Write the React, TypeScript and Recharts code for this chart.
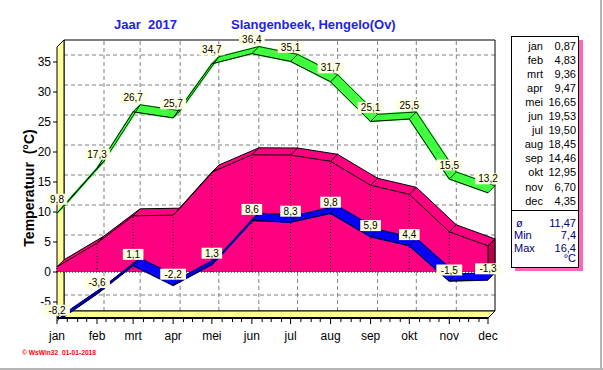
import {
  ComposedChart,
  Line,
  Area,
  XAxis,
  YAxis,
  ReferenceLine,
  ReferenceArea,
  LabelList,
} from 'recharts';

const MONTHS = ['jan', 'feb', 'mrt', 'apr', 'mei', 'jun', 'jul', 'aug', 'sep', 'okt', 'nov', 'dec'];
// day of year where each month starts (the x position of the month)
const MONTH_DAY = [0, 31, 59, 90, 120, 151, 181, 212, 243, 273, 304, 334];
const MONTH_LEN = [31, 28, 31, 30, 31, 30, 31, 31, 30, 31, 30, 31];

const MAX_TEMP = [9.8, 17.3, 26.7, 25.7, 34.7, 36.4, 35.1, 31.7, 25.1, 25.5, 15.5, 13.2];
const MIN_TEMP = [-8.2, -3.6, 1.1, -2.2, 1.3, 8.6, 8.3, 9.8, 5.9, 4.4, -1.5, -1.3];
const AVG_TEMP = [0.87, 4.83, 9.36, 9.47, 16.65, 19.53, 19.5, 18.45, 14.46, 12.95, 6.7, 4.35];

const Y_TICKS = [-5, 0, 5, 10, 15, 20, 25, 30, 35];

const YEAR_AVG = '11,47';
const YEAR_MIN = '7,4';
const YEAR_MAX = '16,4';

const FONT = '"Liberation Sans", Arial, sans-serif';
const PINK = '#ff0080';
const PINK_SIDE = '#b8004c';
const GREEN = '#3cff3c';
const BLUE = '#0000ff';
const YELLOW = '#ffff99';

// plot geometry (3D look: back plane is shifted DEPTH px right and up)
const PLOT_W = 438;
const PLOT_H = 278;
const FRONT_W = 431;
const DEPTH = 7;
const DAY_PER_PX = 334 / FRONT_W;
const X_MAX = PLOT_W * DAY_PER_PX;
const VAL_PER_PX = 1 / 6;
const Y_MAX = 232 * VAL_PER_PX;
const Y_MIN = Y_MAX - PLOT_H * VAL_PER_PX;
const DX = DEPTH * DAY_PER_PX;
const DV = DEPTH * VAL_PER_PX;

const STEPS = [7, 6, 5, 4, 3, 2, 1, 0];

const TICK_DAYS: number[] = [];
MONTH_DAY.forEach((d, i) => {
  if (i === 11) {
    TICK_DAYS.push(d);
    return;
  }
  for (let j = 0; j < 4; j++) TICK_DAYS.push(Math.round(d + (j * MONTH_LEN[i]) / 4));
});

const layer = (vals: number[], k: number) =>
  MONTH_DAY.map((d, i) => ({
    x: d + k * DAY_PER_PX,
    v: vals[i] + k * VAL_PER_PX,
    r: [k * VAL_PER_PX, vals[i] + k * VAL_PER_PX],
  }));

const fmt = (v: number, n: number) => v.toFixed(n).replace('.', ',');

function MonthTick(props: any) {
  const { x, y, payload } = props;
  const idx = MONTH_DAY.indexOf(payload.value);
  const major = idx >= 0;
  return (
    <g>
      <line x1={x} y1={y} x2={x} y2={y + (major ? 6 : 4)} stroke="#000" />
      {major && (
        <text x={x} y={y + 22} textAnchor="middle" fontSize={12} fontFamily={FONT} fill="#000">
          {MONTHS[idx]}
        </text>
      )}
    </g>
  );
}

const makeTag = (lift: number) => (props: any) => {
  const { x, y, value } = props;
  const text = fmt(Number(value), 1);
  const w = text.length * 5.2 + 5;
  return (
    <g>
      <rect x={x - w / 2} y={y - lift - 5.5} width={w} height={11} fill="#ffffe1" />
      <text x={x} y={y - lift + 3.5} textAnchor="middle" fontSize={10} fontFamily={FONT} fill="#000">
        {text}
      </text>
    </g>
  );
};

const leftWall = (p: any) => {
  const { x, y, width, height } = p;
  return (
    <polygon
      points={`${x},${y + DEPTH} ${x + width},${y} ${x + width},${y + height - DEPTH} ${x},${y + height}`}
      fill={YELLOW}
      stroke="#000"
    />
  );
};

const floor = (p: any) => {
  const { x, y, width, height } = p;
  return (
    <g>
      <polygon
        points={`${x},${y + height} ${x + DEPTH},${y} ${x + width},${y} ${x + width - DEPTH},${y + height}`}
        fill={YELLOW}
        stroke="#000"
      />
      <line x1={x} y1={y + height} x2={x + width - DEPTH} y2={y + height} stroke="#000" strokeWidth={2} />
    </g>
  );
};

const sideFace = (p: any) => {
  const { x, y, width, height } = p;
  return (
    <polygon
      points={`${x},${y + height} ${x + width},${y + height - DEPTH} ${x + width},${y} ${x},${y + DEPTH}`}
      fill={PINK_SIDE}
      stroke="#000"
    />
  );
};

function ribbon(id: string, vals: number[], color: string, lift: number, z: number) {
  const out: any[] = [];
  STEPS.forEach((k) => {
    out.push(
      <Line
        key={`${id}s${k}`}
        data={layer(vals, k)}
        dataKey="v"
        type="linear"
        stroke={color}
        strokeWidth={1.7}
        dot={false}
        activeDot={false}
        isAnimationActive={false}
        zIndex={z}
      />
    );
  });
  out.push(
    <Line
      key={`${id}back`}
      data={layer(vals, DEPTH)}
      dataKey="v"
      type="linear"
      stroke="#000"
      strokeWidth={0.8}
      dot={false}
      activeDot={false}
      isAnimationActive={false}
      zIndex={z + 1}
    />
  );
  vals.forEach((v, i) =>
    out.push(
      <ReferenceLine
        key={`${id}c${i}`}
        segment={[
          { x: MONTH_DAY[i], y: v },
          { x: MONTH_DAY[i] + DX, y: v + DV },
        ]}
        stroke="#000"
        strokeWidth={0.8}
        ifOverflow="visible"
        zIndex={z + 1}
      />
    )
  );
  out.push(
    <Line
      key={`${id}front`}
      data={layer(vals, 0)}
      dataKey="v"
      type="linear"
      stroke="#000"
      strokeWidth={1}
      dot={false}
      activeDot={false}
      isAnimationActive={false}
      zIndex={z + 2}
    >
      <LabelList dataKey="v" content={makeTag(lift)} />
    </Line>
  );
  return out;
}

export default function App() {
  return (
    <div style={{ position: 'absolute', left: 0, top: 0, width: 603, height: 370, background: '#fff' }}>
      <ComposedChart width={603} height={370} margin={{ top: 40, right: 108, bottom: 22, left: 17 }}>
        <XAxis
          dataKey="x"
          type="number"
          domain={[0, X_MAX]}
          ticks={TICK_DAYS}
          interval={0}
          tickSize={0}
          tickMargin={0}
          axisLine={false}
          tickLine={false}
          tick={<MonthTick />}
          height={30}
        />
        <YAxis
          type="number"
          domain={[Y_MIN, Y_MAX]}
          allowDataOverflow
          ticks={Y_TICKS}
          width={40}
          axisLine={false}
          tickSize={4}
          tickMargin={2}
          tickLine={{ stroke: '#000' }}
          tick={{ fontSize: 12, fill: '#000', fontFamily: FONT }}
        />

        {/* back wall grid */}
        {Y_TICKS.map((t) => (
          <ReferenceLine
            key={`gh${t}`}
            segment={[
              { x: DX, y: t + DV },
              { x: X_MAX, y: t + DV },
            ]}
            stroke="#808080"
            strokeDasharray="4 3"
            ifOverflow="visible"
            zIndex={10}
          />
        ))}
        {MONTH_DAY.slice(1, 11).map((d) => (
          <ReferenceLine
            key={`gv${d}`}
            segment={[
              { x: d + DX, y: Y_MIN + DV },
              { x: d + DX, y: Y_MAX },
            ]}
            stroke="#808080"
            strokeDasharray="4 3"
            ifOverflow="visible"
            zIndex={10}
          />
        ))}
        <ReferenceArea
          x1={DX}
          x2={X_MAX}
          y1={Y_MIN + DV}
          y2={Y_MAX}
          fill="none"
          fillOpacity={0}
          stroke="#000"
          strokeOpacity={1}
          ifOverflow="visible"
          zIndex={11}
        />
        <ReferenceArea x1={0} x2={DX} y1={Y_MIN} y2={Y_MAX} shape={leftWall} ifOverflow="visible" zIndex={12} />
        <ReferenceArea x1={0} x2={X_MAX} y1={Y_MIN} y2={Y_MIN + DV} shape={floor} ifOverflow="visible" zIndex={12} />

        {/* average: 3D area */}
        {STEPS.map((k) => (
          <Area
            key={`pa${k}`}
            data={layer(AVG_TEMP, k)}
            dataKey="r"
            type="linear"
            fill={PINK}
            fillOpacity={1}
            stroke="none"
            dot={false}
            activeDot={false}
            isAnimationActive={false}
            zIndex={100}
          />
        ))}
        <ReferenceArea
          x1={334}
          x2={X_MAX}
          y1={0}
          y2={AVG_TEMP[11] + DV}
          shape={sideFace}
          ifOverflow="visible"
          zIndex={101}
        />
        {AVG_TEMP.map((v, i) => (
          <ReferenceLine
            key={`pd${i}`}
            segment={[
              { x: MONTH_DAY[i], y: 0 },
              { x: MONTH_DAY[i], y: v },
            ]}
            stroke="#000"
            strokeDasharray="1 2"
            ifOverflow="visible"
            zIndex={102}
          />
        ))}
        {AVG_TEMP.map((v, i) => (
          <ReferenceLine
            key={`pc${i}`}
            segment={[
              { x: MONTH_DAY[i], y: v },
              { x: MONTH_DAY[i] + DX, y: v + DV },
            ]}
            stroke="#000"
            ifOverflow="visible"
            zIndex={102}
          />
        ))}
        <ReferenceLine
          segment={[
            { x: 0, y: 0 },
            { x: 339, y: 0 },
          ]}
          stroke="#000"
          strokeDasharray="1 2"
          ifOverflow="visible"
          zIndex={102}
        />
        <Line
          data={layer(AVG_TEMP, DEPTH)}
          dataKey="v"
          type="linear"
          stroke="#000"
          strokeWidth={1}
          dot={false}
          activeDot={false}
          isAnimationActive={false}
          zIndex={103}
        />
        <Line
          data={layer(AVG_TEMP, 0)}
          dataKey="v"
          type="linear"
          stroke="#000"
          strokeWidth={1}
          dot={false}
          activeDot={false}
          isAnimationActive={false}
          zIndex={103}
        />

        {ribbon('min', MIN_TEMP, BLUE, 11, 200)}
        {ribbon('max', MAX_TEMP, GREEN, 14, 300)}
      </ComposedChart>

      <svg
        width={603}
        height={370}
        style={{ position: 'absolute', left: 0, top: 0, pointerEvents: 'none' }}
        fontFamily={FONT}
      >
        <text x={114} y={29} fontSize={13} fontWeight="bold" fill="#2222ee" style={{ whiteSpace: 'pre' }}>
          {'Jaar  2017'}
        </text>
        <text x={231} y={29} fontSize={13} fontWeight="bold" fill="#2222ee">
          Slangenbeek, Hengelo(Ov)
        </text>
        <text
          x={0}
          y={0}
          transform="translate(34,188) rotate(-90)"
          textAnchor="middle"
          fontSize={14}
          fontWeight="bold"
          fill="#000"
          style={{ whiteSpace: 'pre' }}
        >
          {'Temperatuur  (°C)'}
        </text>

        {/* month table */}
        <rect x={515} y={40} width={68} height={231} fill="#ff66bb" />
        <rect x={511.5} y={36.5} width={67} height={231} fill="#fff" stroke="#000" />
        <line x1={511.5} y1={210.5} x2={578.5} y2={210.5} stroke="#000" />
        {MONTHS.map((m, i) => (
          <g key={m}>
            <text x={543} y={49.5 + i * 14.1} textAnchor="end" fontSize={11} fill="#000">
              {m}
            </text>
            <text x={576} y={49.5 + i * 14.1} textAnchor="end" fontSize={11} fill="#000">
              {fmt(AVG_TEMP[i], 2)}
            </text>
          </g>
        ))}
        <text x={516} y={226.5} fontSize={11} fill="#000080">ø</text>
        <text x={576} y={226.5} textAnchor="end" fontSize={11} fill="#000080">{YEAR_AVG}</text>
        <text x={514} y={239} fontSize={11} fill="#000080">Min</text>
        <text x={576} y={239} textAnchor="end" fontSize={11} fill="#000080">{YEAR_MIN}</text>
        <text x={514} y={251.5} fontSize={11} fill="#000080">Max</text>
        <text x={576} y={251.5} textAnchor="end" fontSize={11} fill="#000080">{YEAR_MAX}</text>
        <text x={576} y={262} textAnchor="end" fontSize={11} fill="#000080">°C</text>

        <text
          x={22}
          y={355}
          fontSize={7.5}
          fontWeight="bold"
          fill="#ff0000"
          textLength={74}
          lengthAdjust="spacingAndGlyphs"
          style={{ whiteSpace: 'pre' }}
        >
          {'© WsWin32  01-01-2018'}
        </text>

        <line x1={601} y1={0} x2={601} y2={370} stroke="#b4b4b4" strokeWidth={2} />
        <line x1={0} y1={369} x2={603} y2={369} stroke="#b4b4b4" strokeWidth={2} />
      </svg>
    </div>
  );
}
